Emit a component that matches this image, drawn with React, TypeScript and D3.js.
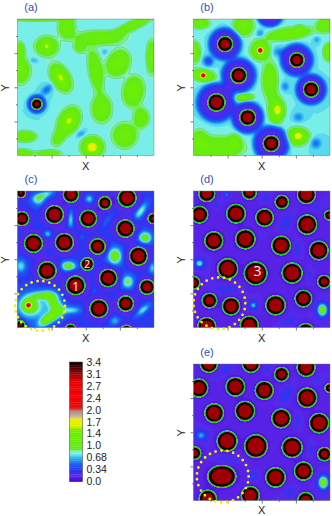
import React, {useEffect, useRef} from "react";
import * as d3 from "d3";

// all positions below are read off the picture, in the units of each panel's x/y domain
// atom: [x, y, radius, haloRadius, haloDepth, stretchX]
// lump: [x, y, sigmaX, sigmaY, angle, amplitude]
type Atom = number[];
type Lump = number[];

const colorbarTicks = [3.4, 3.1, 2.7, 2.4, 2.0, 1.7, 1.4, 1.0, 0.68, 0.34, 0.0];
const colorStops = [0, 0.17, 0.34, 0.55, 0.68, 0.8, 0.86, 0.93, 1.5, 1.55, 1.78, 1.85, 2.0, 2.08, 2.2, 2.8, 3.0, 3.15, 3.3, 3.4];
const colorValues = ["#4a00d6", "#5a28e8", "#2a34f2", "#1c70f2", "#30b8f2", "#78eee8", "#8cf0c0", "#62ea18", "#74f000", "#d8f000", "#eef000", "#c8b890", "#b09090", "#e02020", "#f00000", "#f00000", "#b00000", "#7a0808", "#300000", "#100000"];

// radial profile of an atom: distance from its rim -> value
const rimDistance = [-11, -9.5, -4, -3.5, -0.3, 1];
const rimValue = [3.05, 3.4, 3.4, 1.2, 1.1, 0];

const atomsA: Atom[] = [[110, 311, 17, 30, 0.35]];
const lumpsA: Lump[] = [
    [140, 138, 20, 17, 0, 0.6], [140, 138, 6, 6, 0, 0.25], [182, 232, 15, 25, -30, 0.8], [355, 188, 19, 24, 30, 0.6],
    [401, 273, 18, 26, 10, 0.6], [207, 361, 17, 24, 30, 0.8], [277, 440, 18, 17, 0, 1.0], [287, 210, 13, 40, -10, 0.42],
    [305, 325, 18, 24, 0, 0.5], [300, 112, 45, 13, 0, 0.42], [240, 140, 12, 12, 0, 0.3], [400, 75, 45, 9, -25, 0.42],
    [200, 80, 15, 20, 0, 0.5], [110, 52, 60, 6, 0, 0.5], [60, 150, 8, 15, 0, 0.5], [60, 210, 18, 24, 0, 0.5],
    [455, 170, 9, 30, 0, 0.5], [375, 405, 22, 22, 0, 0.5], [425, 352, 14, 18, 0, 0.42], [75, 408, 20, 10, 0, 0.5],
    [65, 458, 20, 8, 0, 0.4], [145, 458, 25, 6, 0, 0.35], [175, 412, 12, 18, 30, 0.3],
    [140, 268, 14, 8, -40, -0.25], [100, 180, 8, 5, 0, -0.12], [243, 400, 10, 6, -30, -0.15], [315, 155, 6, 6, 0, -0.1],
];

const atomsB: Atom[] = [
    [177, 131, 24, 50, 0.5], [393, 179, 23, 50, 0.5], [218, 225, 25, 53, 0.5], [436, 267, 24, 47, 0.5],
    [151, 306, 27, 60, 0.52], [245, 351, 25, 49, 0.5], [316, 429, 25, 55, 0.52], [312, 38, 10, 42, 0.55],
];
const lumpsB: Lump[] = [
    [283, 150, 17, 17, 0, 0.65], [283, 150, 5, 5, 0, 1.3], [111, 225, 22, 11, 10, 0.6], [111, 225, 5, 5, 0, 1.3],
    [338, 328, 11, 15, 0, 0.5], [398, 406, 10, 10, 0, 0.45], [395, 408, 22, 16, 0, 0.55], [402, 88, 8, 8, 0, 0.35],
    [370, 100, 42, 11, -8, 0.5], [100, 68, 18, 10, 0, 0.5], [232, 76, 18, 18, 0, 0.55], [478, 75, 15, 13, 0, 0.5],
    [87, 155, 9, 18, 0, 0.6], [489, 155, 9, 15, 0, 0.7], [312, 240, 14, 32, 0, 0.5], [330, 330, 14, 26, 0, 0.5],
    [232, 292, 18, 7, -5, 0.55], [150, 442, 48, 20, 0, 0.5], [100, 420, 15, 20, 0, 0.4], [205, 425, 12, 14, 0, 0.4],
    [127, 182, 10, 10, 0, -0.4], [283, 100, 8, 8, 0, -0.2], [340, 155, 14, 10, 0, -0.2], [358, 258, 8, 9, 0, -0.2],
    [398, 350, 10, 9, 0, -0.2], [450, 428, 11, 11, 0, -0.25], [453, 118, 6, 6, 0, -0.15],
];

const atomsC: Atom[] = [
    [62, 80, 15, 26, 0.17], [213, 85, 24, 40, 0.17], [315, 110, 20, 32, 0.17], [382, 95, 28, 46, 0.17], [65, 157, 22, 36, 0.17],
    [163, 145, 28, 46, 0.17], [265, 157, 26, 44, 0.17], [377, 187, 27, 46, 0.17], [460, 157, 16, 26, 0.17], [100, 232, 28, 46, 0.17],
    [193, 229, 28, 46, 0.17], [293, 241, 24, 38, 0.17], [416, 270, 28, 46, 0.17], [262, 294, 20, 28, 0.05], [141, 314, 28, 48, 0.17],
    [325, 336, 27, 44, 0.17], [227, 358, 29, 48, 0.17], [442, 363, 23, 38, 0.17], [378, 413, 24, 40, 0.17], [297, 428, 28, 46, 0.17],
    [60, 478, 15, 22, 0.17], [212, 492, 18, 30, 0.17], [380, 497, 20, 32, 0.17],
];
const lumpsC: Lump[] = [
    [115, 100, 14, 13, 0, 0.45], [135, 85, 20, 7, -20, 0.42], [268, 98, 8, 8, 0, 0.4], [212, 160, 6, 17, 0, 0.42],
    [423, 135, 8, 21, 35, 0.48], [142, 204, 8, 7, 0, 0.38], [436, 215, 14, 13, 0, 0.72], [345, 270, 15, 18, 0, 0.75],
    [205, 300, 16, 10, 0, 0.72], [62, 300, 11, 14, 0, 0.42], [384, 347, 13, 14, 0, 0.58], [458, 305, 8, 13, 0, 0.38],
    [430, 432, 18, 7, -40, 0.42], [345, 465, 11, 9, 0, 0.32], [320, 165, 5, 16, 40, 0.12], [245, 213, 5, 5, 0, 0.1],
    [283, 378, 6, 6, 0, 0.1], [85, 418, 17, 17, 0, 0.72], [85, 418, 5, 5, 0, 1.4], [150, 455, 24, 9, -35, 1.0],
    [110, 425, 42, 34, 0, 0.36], [165, 415, 13, 26, -30, 0.6], [130, 388, 25, 8, 0, 0.55], [215, 433, 20, 8, 0, 0.4],
];

const atomsD: Atom[] = [
    [122, 82, 25, 34, 0.06], [250, 78, 22, 30, 0.06], [422, 85, 28, 38, 0.06], [348, 107, 21, 30, 0.06], [100, 145, 26, 36, 0.06],
    [210, 142, 29, 40, 0.06], [296, 154, 27, 38, 0.06], [424, 175, 30, 42, 0.06], [490, 147, 15, 22, 0.06], [143, 224, 28, 40, 0.06],
    [238, 219, 30, 42, 0.06], [346, 238, 29, 40, 0.06], [459, 253, 29, 40, 0.06], [185, 308, 31, 44, 0.06], [269, 322, 35, 48, 0.06],
    [379, 321, 31, 44, 0.06], [82, 350, 20, 30, 0.06], [475, 347, 20, 30, 0.06], [130, 404, 23, 34, 0.06], [195, 421, 27, 38, 0.06],
    [329, 418, 30, 42, 0.06], [413, 398, 26, 38, 0.06], [122, 482, 28, 38, 0.06], [250, 478, 28, 38, 0.06], [420, 497, 25, 34, 0.06],
];
const lumpsD: Lump[] = [
    [100, 292, 7, 6, 0, 0.55], [100, 292, 15, 13, 0, 0.17], [182, 85, 5, 7, 0, 0.35], [360, 170, 12, 20, 30, 0.15],
    [262, 418, 6, 6, 0, 0.45], [262, 418, 13, 13, 0, 0.12], [470, 432, 9, 12, 0, 0.9], [470, 432, 15, 17, 0, 0.2],
    [370, 465, 14, 10, -30, 0.14], [300, 95, 9, 10, 0, 0.12], [180, 370, 22, 9, 0, 0.14], [395, 250, 8, 18, 0, 0.12],
    [430, 328, 6, 12, 0, 0.12], [150, 115, 9, 6, 0, 0.12], [455, 122, 10, 8, -30, 0.12], [290, 205, 6, 7, 0, 0.08],
];

const atomsE: Atom[] = [
    [128, 82, 27, 36, 0.06], [255, 82, 27, 36, 0.06], [421, 93, 28, 38, 0.06], [347, 114, 22, 32, 0.06], [98, 155, 28, 38, 0.06],
    [208, 151, 29, 40, 0.06], [295, 162, 28, 38, 0.06], [424, 184, 30, 42, 0.06], [491, 155, 14, 22, 0.06], [144, 230, 29, 40, 0.06],
    [237, 224, 30, 42, 0.06], [346, 246, 29, 40, 0.06], [460, 260, 30, 42, 0.06], [183, 314, 31, 44, 0.06], [270, 329, 35, 48, 0.06],
    [379, 333, 31, 44, 0.06], [85, 350, 20, 30, 0.06], [476, 353, 21, 30, 0.06], [167, 420, 34, 48, 0.06, 1.28],
    [329, 423, 30, 42, 0.06], [413, 404, 28, 38, 0.06], [125, 487, 27, 38, 0.06], [253, 477, 28, 38, 0.06], [420, 492, 25, 34, 0.06],
];
const lumpsE: Lump[] = [
    [105, 297, 8, 7, 0, 0.3], [105, 297, 15, 13, 0, 0.2], [473, 438, 9, 12, 0, 0.95], [473, 438, 15, 17, 0, 0.2],
    [180, 100, 10, 10, 0, 0.18], [360, 175, 12, 20, 30, 0.17], [262, 420, 8, 8, 0, 0.22], [370, 468, 14, 10, -30, 0.14],
    [305, 97, 8, 10, 0, 0.12], [455, 130, 9, 7, -30, 0.12], [435, 340, 6, 12, 0, 0.12], [180, 370, 22, 9, 0, 0.12],
    [395, 255, 8, 16, 0, 0.1], [150, 120, 9, 6, 0, 0.1],
];

const panels = [
    {name: "(a)", left: 17.5, top: 19, size: 136.5, xDomain: [52, 463], yDomain: [56, 465], base: 0.8, atoms: atomsA, lumps: lumpsA, labelY: 11, xLabelY: 166, ring: null, notes: []},
    {name: "(b)", left: 193.5, top: 19, size: 136.5, xDomain: [82, 493], yDomain: [56, 465], base: 0.8, atoms: atomsB, lumps: lumpsB, labelY: 11, xLabelY: 166, ring: null, notes: []},
    {name: "(c)", left: 17.5, top: 191, size: 136.5, xDomain: [52, 463], yDomain: [74, 485], base: 0.38, atoms: atomsC, lumps: lumpsC, labelY: 183, xLabelY: 338, ring: [120, 420, 75], notes: [["1", 227, 360, 13], ["2", 262, 294, 11]]},
    {name: "(d)", left: 193.5, top: 191, size: 136.5, xDomain: [82, 493], yDomain: [74, 485], base: 0.2, atoms: atomsD, lumps: lumpsD, labelY: 183, xLabelY: 338, ring: [160, 412, 78], notes: [["3", 275, 316, 14]]},
    {name: "(e)", left: 193.5, top: 364, size: 136.5, xDomain: [82, 493], yDomain: [83, 492], base: 0.2, atoms: atomsE, lumps: lumpsE, labelY: 356, xLabelY: 510, ring: [170, 420, 78], notes: []},
];

const GRID = 274;
const levels = d3.range(0.05, 3.41, 0.05);
const color = d3.scaleLinear<string>().domain(colorStops).range(colorValues).clamp(true);
const rim = d3.scaleLinear().domain(rimDistance).range(rimValue).clamp(true);

function buildField(p: typeof panels[number])
{
    const gx = d3.scaleLinear().domain([0, GRID]).range(p.xDomain);
    const gy = d3.scaleLinear().domain([0, GRID]).range(p.yDomain);
    const values = new Float64Array(GRID * GRID);
    const lumps = p.lumps.map(([x, y, sx, sy, a, amp]) =>
    {
        const t = (a * Math.PI) / 180;
        return {x, y, sx, sy, c: Math.cos(t), s: Math.sin(t), amp};
    });

    for (let j = 0; j < GRID; j++)
    {
        const y = gy(j + 0.5);
        for (let i = 0; i < GRID; i++)
        {
            const x = gx(i + 0.5);
            let v = p.base;
            for (const l of lumps)
            {
                const dx = x - l.x;
                const dy = y - l.y;
                const u = (dx * l.c + dy * l.s) / l.sx;
                const w = (-dx * l.s + dy * l.c) / l.sy;
                const q = (u * u + w * w) / 2;
                if (q < 12) v += l.amp * Math.exp(-q);
            }
            let core = 0;
            for (const [ax, ay, r, hr, depth, stretch = 1] of p.atoms)
            {
                const d = Math.hypot((x - ax) / stretch, y - ay);
                const h = d / hr;
                const inner = d / (r * 1.35);
                if (h < 2) v -= depth * Math.exp(-Math.pow(h, 8));
                if (inner < 2) v -= depth * 0.35 * Math.exp(-Math.pow(inner, 4));
                if (d < r + 2) core = Math.max(core, rim(d - r));
            }
            values[j * GRID + i] = Math.max(Math.max(v, 0.01), core);
        }
    }
    return values;
}

export default function App()
{
    const ref = useRef<SVGSVGElement>(null);

    useEffect(() =>
    {
        const svg = d3.select(ref.current);
        svg.selectAll("*").remove();

        const defs = svg.append("defs");
        defs.append("filter").attr("id", "soft")
            .append("feGaussianBlur").attr("stdDeviation", 0.4);

        const path = d3.geoPath();
        const contours = d3.contours().size([GRID, GRID]).thresholds(levels);

        panels.forEach((p, idx) =>
        {
            const x = d3.scaleLinear().domain(p.xDomain).range([0, p.size]);
            const y = d3.scaleLinear().domain(p.yDomain).range([0, p.size]);
            const unit = p.size / (p.xDomain[1] - p.xDomain[0]);
            const g = svg.append("g").attr("transform", `translate(${p.left}, ${p.top})`);

            defs.append("clipPath").attr("id", `clip${idx}`)
                .append("rect").attr("width", p.size).attr("height", p.size);

            const clip = g.append("g").attr("clip-path", `url(#clip${idx})`);
            clip.append("rect").attr("width", p.size).attr("height", p.size).attr("fill", color(p.base));

            const soft = clip.append("g").attr("filter", "url(#soft)");
            const field = soft.append("g").attr("transform", `scale(${p.size / GRID})`);

            const values = buildField(p);
            field.append("rect").attr("width", GRID).attr("height", GRID).attr("fill", color(0));
            field.selectAll("path.band")
                .data(contours(values as unknown as number[]))
                .enter()
                .append("path")
                .attr("class", "band")
                .attr("d", (d) => path(d))
                .attr("fill", (d) => color(d.value));

            // thin contour lines seen round the green areas
            field.append("path")
                .attr("d", path(contours.contour(values as unknown as number[], 0.88)))
                .attr("fill", "none")
                .attr("stroke", "#1f9038")
                .attr("stroke-opacity", 0.6)
                .attr("stroke-width", 1);

            // the green ring round each atom
            soft.selectAll("ellipse")
                .data(p.atoms.filter((a) => a[2] > 12))
                .enter()
                .append("ellipse")
                .attr("cx", (a) => x(a[0]))
                .attr("cy", (a) => y(a[1]))
                .attr("rx", (a) => (a[2] - 1.3) * (a[5] ?? 1) * unit)
                .attr("ry", (a) => (a[2] - 1.3) * unit)
                .attr("fill", "none")
                .attr("stroke", "#26c03a")
                .attr("stroke-width", 1.1);

            g.append("rect").attr("width", p.size).attr("height", p.size)
                .attr("fill", "none").attr("stroke", "#5a7a6a").attr("stroke-width", 0.4);

            // ticks, no labels
            const majorX = [0.25, 0.5, 0.75].map((t) => p.xDomain[0] + t * (p.xDomain[1] - p.xDomain[0]));
            const minorX = [0.125, 0.375, 0.625, 0.875].map((t) => p.xDomain[0] + t * (p.xDomain[1] - p.xDomain[0]));
            const majorY = [0.25, 0.5, 0.75].map((t) => p.yDomain[0] + t * (p.yDomain[1] - p.yDomain[0]));
            const minorY = [0.125, 0.375, 0.625, 0.875].map((t) => p.yDomain[0] + t * (p.yDomain[1] - p.yDomain[0]));
            [
                d3.axisBottom(x).tickValues(majorX).tickSize(3),
                d3.axisBottom(x).tickValues(minorX).tickSize(1.5),
            ].forEach((axis) =>
            {
                const a = g.append("g").attr("transform", `translate(0, ${p.size})`)
                    .call(axis.tickFormat(() => ""));
                a.select(".domain").remove();
                a.selectAll("line").attr("stroke", "#444").attr("stroke-width", 0.7);
            });
            [
                d3.axisLeft(y).tickValues(majorY).tickSize(3),
                d3.axisLeft(y).tickValues(minorY).tickSize(1.5),
            ].forEach((axis) =>
            {
                const a = g.append("g").call(axis.tickFormat(() => ""));
                a.select(".domain").remove();
                a.selectAll("line").attr("stroke", "#444").attr("stroke-width", 0.7);
            });

            if (p.ring)
            {
                g.append("circle")
                    .attr("cx", x(p.ring[0]))
                    .attr("cy", y(p.ring[1]))
                    .attr("r", p.ring[2] * unit)
                    .attr("fill", "none")
                    .attr("stroke", "#f6f000")
                    .attr("stroke-width", 2.8)
                    .attr("stroke-linecap", "round")
                    .attr("stroke-dasharray", "0 6");
            }

            p.notes.forEach(([label, nx, ny, size]) =>
            {
                g.append("text")
                    .attr("x", x(nx as number))
                    .attr("y", y(ny as number))
                    .attr("dy", "0.35em")
                    .attr("text-anchor", "middle")
                    .attr("font-family", "'Open Sans', sans-serif")
                    .attr("font-size", size as number)
                    .attr("fill", "#f0ecec")
                    .text(label as string);
            });

            svg.append("text")
                .attr("x", p.left + 13.5)
                .attr("y", p.labelY)
                .attr("text-anchor", "middle")
                .attr("font-family", "'Liberation Sans', sans-serif")
                .attr("font-size", 11)
                .attr("fill", "#2d4fb0")
                .text(p.name);

            svg.append("text")
                .attr("x", p.left + p.size / 2)
                .attr("y", p.xLabelY + 4)
                .attr("text-anchor", "middle")
                .attr("font-family", "'Liberation Sans', sans-serif")
                .attr("font-size", 11)
                .attr("fill", "#222")
                .text("X");

            svg.append("text")
                .attr("transform", `translate(${p.left - 12.5}, ${p.top + p.size / 2 + 0.5}) rotate(-90)`)
                .attr("dy", "0.35em")
                .attr("text-anchor", "middle")
                .attr("font-family", "'Liberation Sans', sans-serif")
                .attr("font-size", 11)
                .attr("fill", "#222")
                .text("Y");
        });

        // colour bar
        const barX = 69.5;
        const barWidth = 13;
        const barY = d3.scaleLinear().domain([0, 3.4]).range([481.5, 362]);
        const step = 0.05;
        svg.append("g")
            .selectAll("rect")
            .data(d3.range(0, 3.4, step))
            .enter()
            .append("rect")
            .attr("x", barX)
            .attr("width", barWidth)
            .attr("y", (d) => barY(d + step))
            .attr("height", barY(0) - barY(step) + 0.3)
            .attr("fill", (d) => color(d + step / 2));
        svg.append("rect")
            .attr("x", barX).attr("y", barY(3.4))
            .attr("width", barWidth).attr("height", barY(0) - barY(3.4))
            .attr("fill", "none").attr("stroke", "#444").attr("stroke-width", 0.5);

        svg.append("g")
            .selectAll("text")
            .data(colorbarTicks)
            .enter()
            .append("text")
            .attr("x", barX + barWidth + 4)
            .attr("y", (d, i) => 362 + i * 11.95)
            .attr("dy", "0.36em")
            .attr("font-family", "'Liberation Sans', sans-serif")
            .attr("font-size", 10.5)
            .attr("fill", "#222")
            .text((d) => (d === 0 ? "0.0" : d >= 1 && d % 1 === 0 ? d.toFixed(1) : String(d)));
    }, []);

    return (
        <svg
            ref={ref}
            width={332}
            height={516}
            style={{position: "absolute", left: 0, top: 0, background: "#fff"}}
        />
    );
}
